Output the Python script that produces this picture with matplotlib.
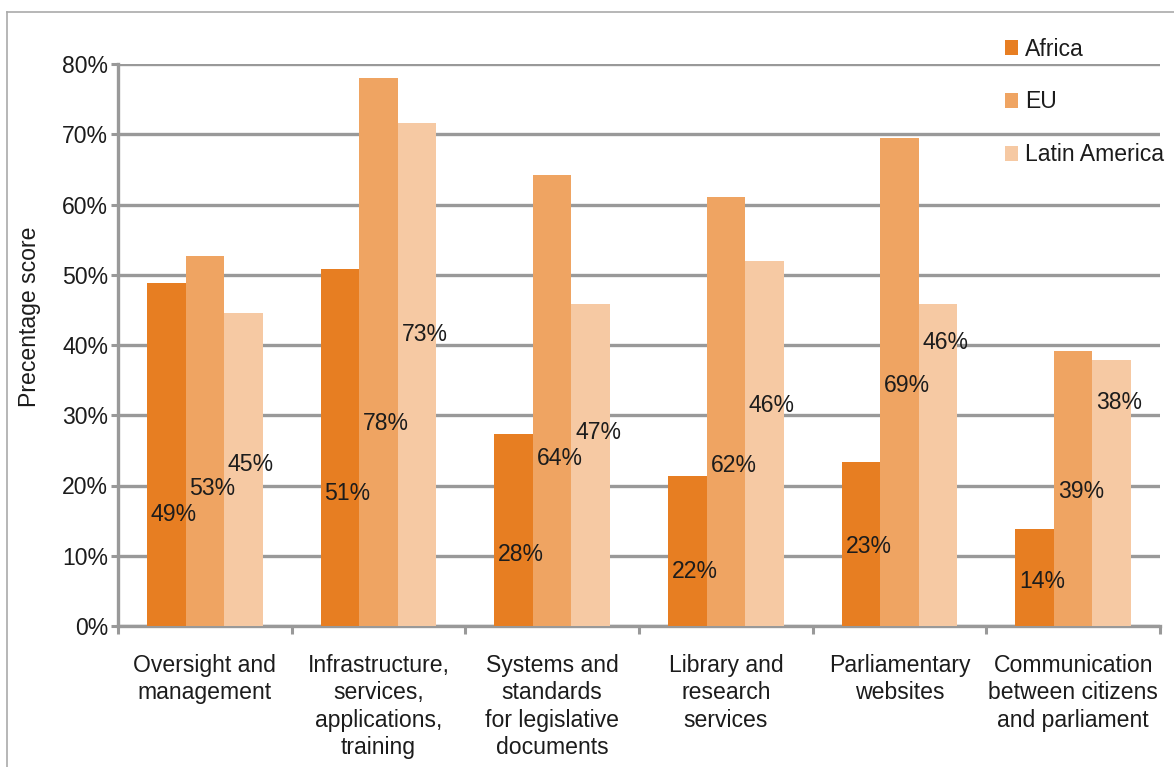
import matplotlib
matplotlib.use("Agg")
import matplotlib.pyplot as plt
from matplotlib.lines import Line2D
from matplotlib.patches import Patch
import numpy as np

categories = [
    "Oversight and\nmanagement",
    "Infrastructure,\nservices,\napplications,\ntraining",
    "Systems and\nstandards\nfor legislative\ndocuments",
    "Library and\nresearch\nservices",
    "Parliamentary\nwebsites",
    "Communication\nbetween citizens\nand parliament",
]
series_names = ["Africa", "EU", "Latin America"]

# bar heights (%) as drawn
africa = [48.8, 50.8, 27.4, 21.4, 23.4, 13.8]
eu = [52.7, 78.0, 64.2, 61.0, 69.4, 39.2]
latam = [44.5, 71.6, 45.8, 51.9, 45.9, 37.9]

# data-label texts as printed
africa_labels = ["49%", "51%", "28%", "22%", "23%", "14%"]
eu_labels = ["53%", "78%", "64%", "62%", "69%", "39%"]
latam_labels = ["45%", "73%", "47%", "46%", "46%", "38%"]

# data-label vertical anchor (%), as placed in the original
africa_label_y = [15.9, 18.8, 10.2, 7.7, 11.3, 6.4]
eu_label_y = [19.6, 28.8, 23.8, 22.9, 34.3, 19.2]
latam_label_y = [23.0, 41.5, 27.5, 31.4, 40.4, 31.8]

yticks = [0, 10, 20, 30, 40, 50, 60, 70, 80]
ytick_labels = ["0%", "10%", "20%", "30%", "40%", "50%", "60%", "70%", "80%"]

colors = ["#E77E22", "#EFA462", "#F6C9A3"]
grid_color = "#999999"
text_color = "#1c1c1c"

plt.rcParams["font.family"] = ["Liberation Sans", "DejaVu Sans"]
FS = 16.6

W, H = 1174, 767
fig = plt.figure(figsize=(W / 100, H / 100), dpi=100)
ax = fig.add_axes([118 / W, 1 - 626 / H, (1160 - 118) / W, (626 - 64) / H])

x = np.arange(len(categories))
bw = 0.222
all_vals = [africa, eu, latam]
all_labels = [africa_labels, eu_labels, latam_labels]
all_label_y = [africa_label_y, eu_label_y, latam_label_y]

for i, (vals, c) in enumerate(zip(all_vals, colors)):
    pos = x + (i - 1) * bw
    ax.bar(pos, vals, width=bw, color=c, zorder=3, linewidth=0)
    for p, lab, ly in zip(pos, all_labels[i], all_label_y[i]):
        ax.text(p - bw / 2 + 0.022, ly, lab, ha="left", va="center",
                fontsize=FS, color=text_color, zorder=5)

ax.set_xlim(-0.5, len(categories) - 0.5)
ax.set_ylim(0, 80)
ax.set_yticks(yticks)
ax.set_yticklabels(ytick_labels, fontsize=FS, color=text_color)
ax.yaxis.grid(True, color=grid_color, linewidth=2.4, zorder=0)
ax.set_axisbelow(True)

ax.set_xticks(x)
ax.set_xticklabels(categories, fontsize=FS, color=text_color, linespacing=1.25)
ax.set_xticks(np.arange(len(categories) + 1) - 0.5, minor=True)
ax.tick_params(axis="x", which="major", length=0, pad=20)
ax.tick_params(axis="x", which="minor", length=6, width=2.2, color=grid_color)
ax.tick_params(axis="y", length=5, width=2.2, color=grid_color, pad=2)

for s in ["top", "right"]:
    ax.spines[s].set_visible(False)
for s in ["left", "bottom"]:
    ax.spines[s].set_color(grid_color)
    ax.spines[s].set_linewidth(2.4)

fig.text(30 / W, 1 - 317 / H, "Precentage score", rotation=90, ha="center",
         va="center", fontsize=FS, color=text_color)

handles = [Patch(facecolor=c, edgecolor="none") for c in colors]
leg = fig.legend(handles, series_names, loc="upper left",
                 bbox_to_anchor=(993 / W, 1 - 26 / H), frameon=False,
                 fontsize=FS, handlelength=0.6, handleheight=0.6,
                 handletextpad=0.3, labelspacing=1.3, borderpad=0)
for t in leg.get_texts():
    t.set_color(text_color)

# outer frame (left and top edges visible)
fig.add_artist(Line2D([7 / W, 7 / W], [0, 1 - 12 / H], transform=fig.transFigure,
                      color="#aaaaaa", linewidth=1.2))
fig.add_artist(Line2D([7 / W, 1], [1 - 12 / H, 1 - 12 / H], transform=fig.transFigure,
                      color="#aaaaaa", linewidth=1.2))

fig.savefig("out.png", dpi=100, facecolor="white")
